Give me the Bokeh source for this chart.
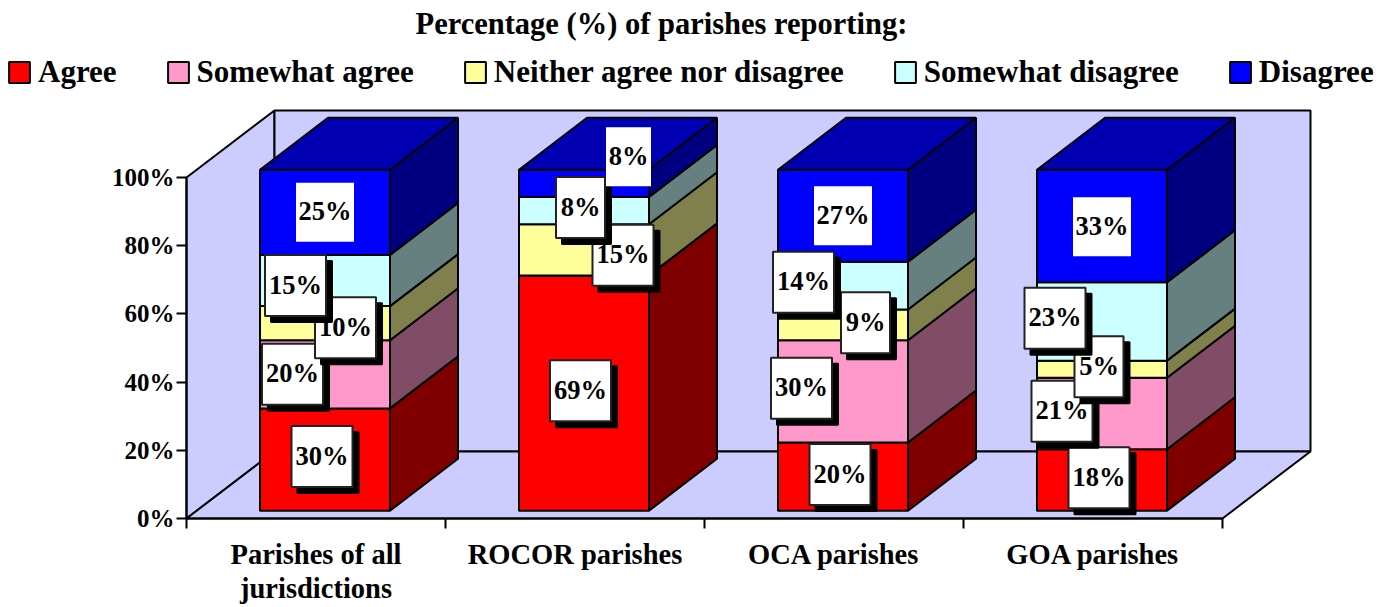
from bokeh.plotting import figure
from bokeh.models import Range1d, LinearAxis, FixedTicker, Legend, LegendItem, Title
from bokeh.core.properties import value
from bokeh.embed import file_html
from bokeh.resources import INLINE

title_text = "Percentage (%) of parishes reporting:"
categories = ["Parishes of all\njurisdictions", "ROCOR parishes", "OCA parishes", "GOA parishes"]
series = ["Agree", "Somewhat agree", "Neither agree nor disagree", "Somewhat disagree", "Disagree"]
agree = [30, 69, 20, 18]
somewhat_agree = [20, 0, 30, 21]
neither = [10, 15, 9, 5]
somewhat_disagree = [15, 8, 14, 23]
disagree = [25, 8, 27, 33]
y_ticks = [0, 20, 40, 60, 80, 100]
columns = [agree, somewhat_agree, neither, somewhat_disagree, disagree]

front_colors = ["#FF0000", "#FF99CC", "#FFFF99", "#CCFFFF", "#0000FF"]
side_colors = ["#800000", "#804C66", "#80804C", "#668080", "#000080"]
top_color = "#0000B3"
wall_color = "#CCCCFF"
FONT = "Liberation Serif"

# label box offsets from the middle of the segment's front face, in pixels (right, up)
label_dx = [[-3, -3.5, -3, -3], [-32.5, 0, -41.5, -40], [20.5, 39, 22.5, -3], [-29.5, -3.5, -39.5, -47], [0, 44.5, 0, 0]]
label_dy = [[3, 2.4, 2, 2.3], [0, 0, 3.2, 2.3], [-4.5, -5.4, 2.2, 2.5], [-5, 3, 3.4, 3.2], [0, 26.6, 0, -0.7]]

W, H = 1386, 607
AXIS_X, TOP, AXIS_Y = 186, 40, 518
PX_PER_CAT = 259.0
PX_PER_PCT = 3.41
fx = 1 / PX_PER_CAT
fy = 1 / PX_PER_PCT

p = figure(width=W, height=H, output_backend="svg", toolbar_location=None,
           x_range=Range1d(-AXIS_X * fx, (W - AXIS_X) * fx), y_range=Range1d(-(H - AXIS_Y) * fy, (AXIS_Y - TOP) * fy),
           min_border_left=0, min_border_right=0, min_border_top=TOP, min_border_bottom=0,
           x_axis_type=None, y_axis_type=None, outline_line_color=None)
p.grid.visible = False

# walls and floor
wall_dx, wall_dy = 88 * fx, 67 * fy
n = len(categories)
p.patches(xs=[[0, wall_dx, wall_dx, 0], [wall_dx, n + wall_dx, n + wall_dx, wall_dx], [0, n, n + wall_dx, wall_dx]],
          ys=[[0, wall_dy, 100 + wall_dy, 100], [wall_dy, wall_dy, 100 + wall_dy, 100 + wall_dy], [0, 0, wall_dy, wall_dy]],
          fill_color=wall_color, line_color="black", line_width=2)

# bars
bar_width = 130 * fx
first_center = 138.5 * fx
base = 7.8 * fy
depth_x, depth_y = 68 * fx, 52 * fy
centers = [first_center + i for i in range(n)]
lefts = [c - bar_width / 2 for c in centers]
rights = [c + bar_width / 2 for c in centers]
cum = [base] * n
legend_items = []
mids = []
for s, vals in enumerate(columns):
    bottoms = list(cum)
    tops = [b + v for b, v in zip(bottoms, vals)]
    mids.append([(b + t) / 2 for b, t in zip(bottoms, tops)])
    p.patches(xs=[[r, r + depth_x, r + depth_x, r] for r in rights],
              ys=[[b, b + depth_y, t + depth_y, t] for b, t in zip(bottoms, tops)],
              fill_color=side_colors[s], line_color="black", line_width=2)
    q = p.quad(left=lefts, right=rights, bottom=bottoms, top=tops,
               fill_color=front_colors[s], line_color="black", line_width=2)
    legend_items.append(LegendItem(label=series[s], renderers=[q]))
    cum = tops
p.patches(xs=[[l, r, r + depth_x, l + depth_x] for l, r in zip(lefts, rights)],
          ys=[[t, t, t + depth_y, t + depth_y] for t in cum],
          fill_color=top_color, line_color="black", line_width=2)

# data labels
for s, vals in enumerate(columns):
    boxed = s < 4
    for i, v in enumerate(vals):
        if v == 0:
            continue
        txt = f"{v}%"
        cx = centers[i] + label_dx[s][i] * fx
        cy = mids[s][i] + label_dy[s][i] * fy
        w = (61 if len(txt) == 3 else 49) if boxed else (58 if len(txt) == 3 else 45)
        h = 61 if boxed else 59
        hw, hh = w / 2 * fx, h / 2 * fy
        if boxed:
            sx, sy = 6 * fx, 6 * fy
            p.quad(left=[cx - hw + sx], right=[cx + hw + sx], bottom=[cy - hh - sy], top=[cy + hh - sy],
                   fill_color="black", line_color="black", line_width=2)
        p.quad(left=[cx - hw], right=[cx + hw], bottom=[cy - hh], top=[cy + hh], fill_color="white",
               line_color="#222222" if boxed else None, line_width=2)
        p.text(x=[cx], y=[cy + 1 * fy], text=[txt], text_font=value(FONT), text_font_style="bold", text_font_size="26.5px",
               text_align="center", text_baseline="middle", text_color="black")

# axes
yax = LinearAxis(ticker=FixedTicker(ticks=y_ticks), bounds=(0, 100), fixed_location=0,
                 major_label_overrides={t: f"{t}%" for t in y_ticks})
yax.major_tick_in = 0
yax.major_tick_out = 10
yax.major_tick_line_width = 2
yax.axis_line_width = 2
yax.minor_tick_line_color = None
yax.major_label_standoff = 2
yax.major_label_text_font = FONT
yax.major_label_text_font_style = "bold"
yax.major_label_text_font_size = "25px"
yax.major_label_text_color = "black"
p.add_layout(yax, "left")

tick_pos = list(range(n + 1))
xax = LinearAxis(ticker=FixedTicker(ticks=tick_pos), bounds=(0, n), fixed_location=0,
                 major_label_overrides={t: "" for t in tick_pos})
xax.major_tick_in = 0
xax.major_tick_out = 10
xax.major_tick_line_width = 2
xax.axis_line_width = 2
xax.minor_tick_line_color = None
p.add_layout(xax, "below")

# category labels: one label axis per text line
cat_lines = [c.split("\n") for c in categories]
for line_no, standoff in enumerate([20, 54]):
    ticks = [i + 0.5 for i, ls in enumerate(cat_lines) if len(ls) > line_no]
    labels = [ls[line_no] for ls in cat_lines if len(ls) > line_no]
    cax = LinearAxis(ticker=FixedTicker(ticks=ticks), bounds=(0, n), fixed_location=0,
                     major_label_overrides=dict(zip(ticks, labels)))
    cax.axis_line_color = None
    cax.major_tick_line_color = None
    cax.minor_tick_line_color = None
    cax.major_tick_out = 0
    cax.major_tick_in = 0
    cax.major_label_standoff = standoff
    cax.major_label_text_font = FONT
    cax.major_label_text_font_style = "bold"
    cax.major_label_text_font_size = "28.5px"
    cax.major_label_text_color = "black"
    p.add_layout(cax, "below")

# legend and title
leg = Legend(items=legend_items, orientation="horizontal", location=(6, 517), spacing=48, padding=0, margin=0,
             glyph_width=26, glyph_height=26, label_standoff=6, background_fill_alpha=0, border_line_color=None,
             label_text_font=FONT, label_text_font_style="bold", label_text_font_size="31px", label_text_color="black")
p.add_layout(leg, "center")

p.add_layout(Title(text=title_text, text_font=FONT, text_font_style="bold", text_font_size="30.5px",
                   text_color="black", align="left", offset=415, standoff=0), "above")

open("out.html", "w").write(file_html(p, INLINE))
